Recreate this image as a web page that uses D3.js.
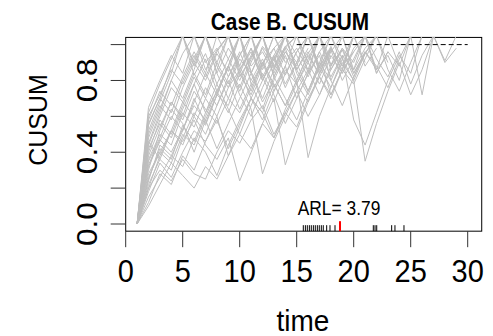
<!DOCTYPE html>
<html><head><meta charset="utf-8">
<script src="https://cdn.jsdelivr.net/npm/d3@7"></script>
<style>html,body{margin:0;padding:0;background:#fff;}svg{display:block;}</style>
</head><body>
<script>
// ---- data ----
const title = "Case B. CUSUM";
const xLabel = "time";
const yLabel = "CUSUM";
const xTicks = [0, 5, 10, 15, 20, 25, 30];
const yTicks = [0, 0.2, 0.4, 0.6, 0.8, 1.0];
const yTickLabels = ["0.0", "", "0.4", "", "0.8", ""];
const threshold = 1.0;
const thresholdFrom = 15;
const thresholdTo = 30;
const arlText = "ARL= 3.79";
const arlMark = 18.8;
const signalTimes = [15.58, 15.76, 15.93, 16.11, 16.28, 16.46, 16.63, 16.81, 16.98, 17.16, 17.33, 17.63, 17.92, 18.36, 21.72, 21.87, 22.02, 23.33, 23.62, 24.41];
// CUSUM paths, values at time 1,2,3,...
const runs = [
 [0,0.45,0.62,0.80,0.95,1.05,0.86,0.97,1.05,0.82,0.93,1.05,0.88,0.99,1.05,0.90],
 [0,0.30,0.52,0.68,0.60,0.78,0.92,0.74,0.88,1.05,0.85,0.70,0.86,0.98,0.80,0.95,1.05,0.89,0.97],
 [0,0.22,0.36,0.30,0.48,0.62,0.55,0.72,0.66,0.84,0.98,0.80,0.93,0.76,0.90,1.05,0.87,0.99,0.84,0.96],
 [0,0.55,0.70,0.88,1.05,0.83,0.95,0.78,0.92,1.05,0.84,0.99,0.91,1.05,0.86],
 [0,0.18,0.34,0.26,0.40,0.52,0.46,0.60,0.38,0.54,0.70,0.58,0.74,0.88,0.70,0.84,1.05,0.86,0.97,0.82,0.95,1.05],
 [0,0.40,0.58,0.50,0.66,0.82,0.70,0.86,1.05,0.88,0.74,0.90,0.98,0.83,0.96,1.05,0.85],
 [0,0.12,0.28,0.22,0.38,0.30,0.46,0.58,0.42,0.56,0.70,0.62,0.48,0.64,0.78,0.68,0.84,0.97,0.80,0.92,1.05,0.84,0.96],
 [0,0.62,0.78,0.92,1.05,0.88,1.05,0.90,0.78,0.94,1.05,0.86,0.98,1.05],
 [0,0.35,0.48,0.64,0.56,0.40,0.58,0.72,0.88,0.76,0.92,1.05,0.82,0.96,0.88,1.05,0.84,0.98],
 [0,0.25,0.42,0.36,0.55,0.46,0.62,0.78,0.64,0.50,0.66,0.80,0.94,0.78,0.90,0.74,0.88,1.05,0.92,0.80,0.95,1.05,0.86,0.74,0.90,1.05],
 [0,0.50,0.66,0.58,0.76,0.90,1.05,0.84,0.70,0.86,0.98,0.82,0.68,0.84,0.96,1.05,0.88,0.76,0.92,1.05],
 [0,0.20,0.30,0.24,0.36,0.28,0.25,0.40,0.52,0.45,0.58,0.66,0.50,0.62,0.74,0.60,0.72,0.86,0.98,0.84,0.95,1.05],
 [0,0.58,0.74,0.66,0.82,0.96,0.84,1.05,0.92,0.80,0.94,1.05,0.87,0.99,0.90,1.05,0.86,0.97],
 [0,0.32,0.46,0.60,0.52,0.68,0.84,0.72,0.88,1.05,0.78,0.64,0.82,0.70,0.58,0.74,0.90,0.80,0.66,0.82,0.96,0.86,1.05,0.88],
 [0,0.15,0.26,0.38,0.32,0.48,0.40,0.27,0.44,0.58,0.70,0.62,0.78,0.66,0.80,0.94,0.84,0.98,0.88,1.05],
 [0,0.44,0.60,0.76,0.68,0.84,0.72,0.90,1.05,0.86,0.96,0.80,0.92,1.05,0.84,0.72,0.88,0.98,0.86,1.05,0.90],
 [0,0.28,0.40,0.34,0.50,0.44,0.60,0.74,0.62,0.78,0.64,0.28,0.46,0.60,0.74,0.86,0.72,0.88,1.05,0.84,0.96,0.88,0.76,0.92,1.05],
 [0,0.65,0.80,0.94,0.84,1.05,0.90,0.98,0.82,0.94,1.05,0.88,1.05,0.92],
 [0,0.38,0.54,0.68,0.58,0.74,0.64,0.56,0.70,0.62,0.76,0.90,0.78,0.66,0.80,0.37,0.60,0.76,0.90,0.80,0.35,0.56,0.74,0.90,0.72,0.86,1.05,0.90,0.98],
 [0,0.48,0.64,0.80,0.70,0.86,1.05,0.88,0.76,0.92,0.84,0.98,0.86,1.05,0.94,0.82,0.96,1.05,0.88,0.96,1.05,0.84,0.96,0.88,1.05,0.72,1.05,0.91,1.05],
 [0,0.10,0.22,0.34,0.27,0.20,0.32,0.25,0.38,0.50,0.42,0.56,0.48,0.62,0.54,0.70,0.82,0.72,0.86,0.78,0.92,1.05],
 [0,0.52,0.68,0.84,1.05,0.90,0.80,0.95,0.85,1.05,0.88,0.96,0.84,0.98,1.05,0.90,0.78,0.94,0.84,0.98,1.05,0.86,0.94,0.80,1.05],
 [0,0.36,0.50,0.44,0.62,0.54,0.70,0.60,0.76,0.86,0.70,0.84,0.72,0.56,0.70,0.84,0.96,0.82,0.94,0.58,0.44,0.62,0.80,0.94,0.84,1.05],
 [0,0.24,0.44,0.38,0.52,0.70,0.56,0.72,0.88,0.74,0.90,1.05,0.82,0.96,0.86,0.74,0.90,1.05],
 [0,0.60,0.72,0.86,0.78,0.92,1.05,0.84,0.98,0.88,1.05,0.82,0.94,1.05,0.86,0.98],
 [0,0.42,0.56,0.48,0.64,0.78,0.62,0.74,0.88,0.72,0.60,0.76,0.90,1.05,0.86,0.96,0.82,0.96,1.05,0.86,0.98,1.05,0.90],
 [0,0.33,0.47,0.40,0.53,0.66,0.58,0.42,0.56,0.70,0.84,0.68,0.80,0.94,0.78,0.90,1.05,0.80,0.94,0.86,1.05],
 [0,0.20,0.38,0.52,0.44,0.60,0.50,0.66,0.80,0.64,0.78,0.90,0.74,0.86,0.78,0.92,1.05,0.88,0.98,0.90,1.05,0.92,0.82,0.96,0.78,0.94,1.05],
 [0,0.56,0.70,0.62,0.80,0.94,0.82,0.96,1.05,0.84,0.72,0.88,1.05,0.90,0.98,0.86,1.05,0.92],
 [0,0.46,0.36,0.52,0.68,0.60,0.76,0.66,0.82,0.96,0.80,0.92,0.76,0.88,1.05,0.84,0.94,0.72,0.86,1.05,0.88,0.98],
 [0,0.26,0.40,0.52,0.46,0.58,0.44,0.36,0.48,0.24,0.40,0.56,0.70,0.33,0.52,0.68,0.82,0.70,0.86,1.05]
];

// ---- drawing ----
const W = 493, H = 336;
const FONT = "'Liberation Sans', Arial, Helvetica, sans-serif";
const svg = d3.select("body").append("svg").attr("width", W).attr("height", H);

const x = d3.scaleLinear().domain([0, 30]).range([125.7, 467.7]);
const y = d3.scaleLinear().domain([0, 1]).range([224, 44.6]);
const xMin = 0, xMax = 31.23, yMin = -0.04, yMax = 1.04;

const bx = x(xMin), by = y(yMax), bw = x(xMax) - x(xMin), bh = y(yMin) - y(yMax);
svg.append("defs").append("clipPath").attr("id", "plotclip")
  .append("rect").attr("x", bx - 0.5).attr("y", by - 0.5).attr("width", bw + 1).attr("height", bh + 1);

// box
svg.append("rect")
  .attr("x", bx).attr("y", by).attr("width", bw).attr("height", bh)
  .attr("fill", "none").attr("stroke", "#000").attr("stroke-width", 1);

// paths (drawn over the box, clipped to plot region)
const line = d3.line().x((d, i) => x(i + 1)).y(d => y(d));
svg.append("g").attr("clip-path", "url(#plotclip)")
  .selectAll("path").data(runs).join("path")
  .attr("d", line).attr("fill", "none").attr("stroke", "#bebebe").attr("stroke-width", 1);

// threshold dashed line
svg.append("line")
  .attr("x1", x(thresholdFrom)).attr("x2", x(thresholdTo))
  .attr("y1", y(threshold)).attr("y2", y(threshold))
  .attr("stroke", "#000").attr("stroke-width", 1).attr("stroke-dasharray", "5,3");

// rug
const yb = y(yMin);
svg.append("g").selectAll("line").data(signalTimes).join("line")
  .attr("x1", d => x(d)).attr("x2", d => x(d))
  .attr("y1", yb).attr("y2", yb - 6)
  .attr("stroke", "#000").attr("stroke-width", 1);
svg.append("line")
  .attr("x1", x(arlMark)).attr("x2", x(arlMark))
  .attr("y1", yb).attr("y2", yb - 10)
  .attr("stroke", "#ff0000").attr("stroke-width", 2);

function txt(t, px, py, size, k, opts = {}) {
  const rot = opts.rotate || 0;
  svg.append("text")
    .attr("transform", `translate(${px},${py}) scale(1,${k}) rotate(${rot})`)
    .attr("text-anchor", opts.anchor || "middle")
    .attr("font-family", FONT)
    .attr("font-size", size)
    .attr("font-weight", opts.bold ? "bold" : "normal")
    .attr("fill", "#000")
    .text(t);
}

// ARL label
txt(arlText, x(arlMark) - 1, 215, 17.4, 1.12);

// x axis
const xAxisY = yb;
svg.append("g").selectAll("line").data(xTicks).join("line")
  .attr("x1", d => x(d)).attr("x2", d => x(d))
  .attr("y1", xAxisY).attr("y2", xAxisY + 16)
  .attr("stroke", "#333").attr("stroke-width", 1);
xTicks.forEach(d => txt(String(d), x(d), 281.5, 29, 1.1));

// y axis
const yAxisX = x(xMin);
svg.append("g").selectAll("line").data(yTicks).join("line")
  .attr("x1", yAxisX - 15).attr("x2", yAxisX)
  .attr("y1", d => y(d)).attr("y2", d => y(d))
  .attr("stroke", "#333").attr("stroke-width", 1);
yTicks.forEach((d, i) => { if (yTickLabels[i]) txt(yTickLabels[i], 97, y(d), 30, 1.05, {rotate: -90}); });

// titles
txt(title, 290, 29.5, 20.8, 1.12, {bold: true});
txt(xLabel, 303, 331, 28, 1.05);
txt(yLabel, 47, 120, 25, 1.0, {rotate: -90});
</script>
</body></html>
